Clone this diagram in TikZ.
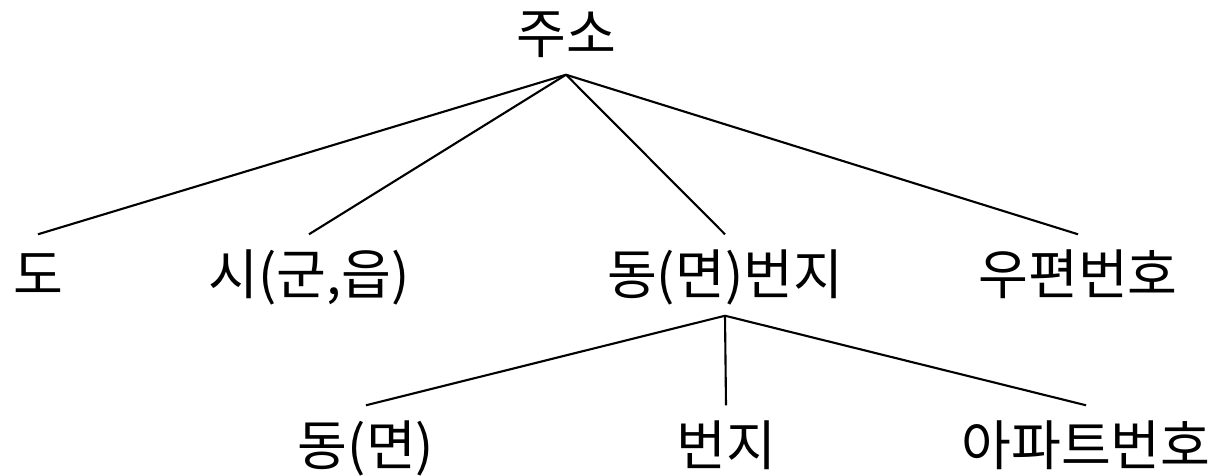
\documentclass[tikz,border=0pt]{standalone}
\usepackage{fontspec}
\setmainfont{Noto Sans CJK KR}
\begin{document}
\begin{tikzpicture}[x=0.01cm,y=-0.01cm,
  lbl/.style={inner sep=0pt, minimum height=0.8cm, text height=0.44cm, text depth=0.05cm,
    font=\fontsize{15.4pt}{18pt}\selectfont},
  edge/.style={draw=black, line width=0.6pt}]
\useasboundingbox (0,0) rectangle (1218,476);
\node[lbl] (root) at (566,34) {주소};
\node[lbl] (do) at (38,275) {도};
\node[lbl] (si) at (309,275) {시(군,읍)};
\node[lbl] (dong) at (725,275) {동(면)번지};
\node[lbl] (post) at (1078,275) {우편번호};
\node[lbl] (dm) at (366,446) {동(면)};
\node[lbl] (bj) at (726,446) {번지};
\node[lbl] (apt) at (1086,446) {아파트번호};
\draw[edge] (root.south) -- (do.north);
\draw[edge] (root.south) -- (si.north);
\draw[edge] (root.south) -- (dong.north);
\draw[edge] (root.south) -- (post.north);
\draw[edge] (dong.south) -- (dm.north);
\draw[edge] (dong.south) -- (bj.north);
\draw[edge] (dong.south) -- (apt.north);
\end{tikzpicture}
\end{document}
